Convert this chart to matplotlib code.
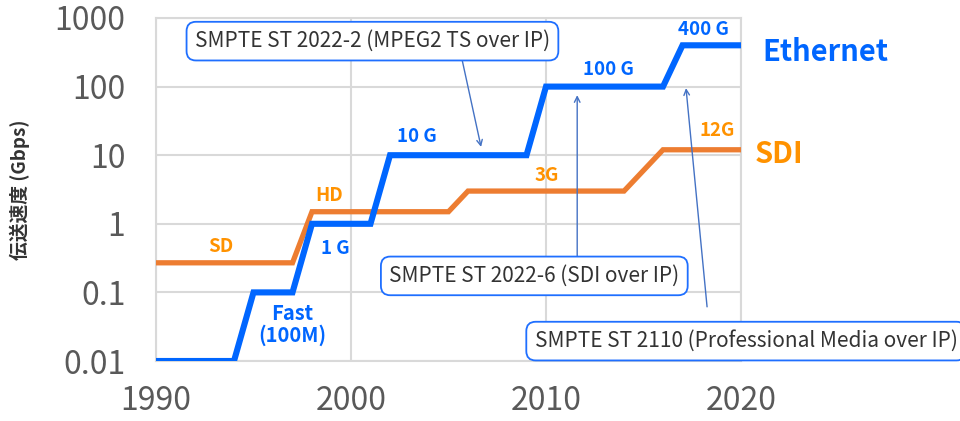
import numpy as np
import matplotlib
matplotlib.use("Agg")
import matplotlib.pyplot as plt

plt.rcParams['font.family'] = ['Noto Sans CJK JP', 'DejaVu Sans']

# Ethernet speeds (Gbps), step points
eth_year = [1990, 1994, 1995, 1997, 1998, 2001, 2002, 2009, 2010, 2016, 2017, 2020]
eth_gbps = [0.01, 0.01, 0.1, 0.1, 1, 1, 10, 10, 100, 100, 400, 400]

# SDI speeds (Gbps)
sdi_year = [1990, 1997, 1998, 2005, 2006, 2014, 2016, 2020]
sdi_gbps = [0.27, 0.27, 1.5, 1.5, 3, 3, 12, 12]

yticks = [0.01, 0.1, 1, 10, 100, 1000]
ytick_labels = ["0.01", "0.1", "1", "10", "100", "1000"]
xticks = [1990, 2000, 2010, 2020]

BLUE = "#0066ff"
ORANGE_LINE = "#ed7d31"
ORANGE_TXT = "#ff9200"
GRID = "#d9d9d9"

fig = plt.figure(figsize=(9.6, 4.21), dpi=100)
ax = fig.add_axes([156 / 960, 1 - 361 / 421, (741 - 156) / 960, (361 - 18) / 421])

ax.plot(sdi_year, sdi_gbps, color=ORANGE_LINE, lw=3.8, solid_joinstyle='miter', zorder=3)
ax.plot(eth_year, eth_gbps, color=BLUE, lw=4.4, solid_joinstyle='miter', zorder=4)

ax.set_yscale('log')
ax.set_ylim(0.01, 1000)
ax.set_xlim(1990, 2020)
ax.set_yticks(yticks)
ax.set_yticklabels(ytick_labels)
ax.set_xticks(xticks)
ax.minorticks_off()
ax.tick_params(length=0, labelsize=23, labelcolor="#595959")
ax.tick_params(axis='y', pad=22)
ax.tick_params(axis='x', pad=17)
ax.grid(True, color=GRID, lw=1.5)
ax.set_axisbelow(True)
for s in ax.spines.values():
    s.set_color(GRID)
    s.set_linewidth(1.5)

ax.set_ylabel("伝送速度 (Gbps)", fontsize=13.5, fontweight='bold', color="#333333")
ax.yaxis.set_label_coords(-0.215, 0.5)

# series labels
lab = dict(fontsize=13.5, fontweight='bold', ha='center', va='center')
ax.text(1993.3, 0.47, "SD", color=ORANGE_TXT, **lab)
ax.text(1998.9, 2.6, "HD", color=ORANGE_TXT, **lab)
ax.text(2010.05, 5.1, "3G", color=ORANGE_TXT, **lab)
ax.text(2018.8, 23, "12G", color=ORANGE_TXT, **lab)
ax.text(1999.2, 0.44, "1 G", color=BLUE, **lab)
ax.text(1997.0, 0.034, "Fast\n(100M)", color=BLUE, linespacing=1.05,
        **dict(lab, fontsize=14.5))
ax.text(2003.4, 19, "10 G", color=BLUE, **lab)
ax.text(2013.2, 180, "100 G", color=BLUE, **lab)
ax.text(2018.05, 690, "400 G", color=BLUE, **lab)

ax.text(2021.1, 318, "Ethernet", color=BLUE, fontsize=21, fontweight='bold',
        ha='left', va='center', clip_on=False)
ax.text(2020.7, 10.5, "SDI", color=ORANGE_TXT, fontsize=21, fontweight='bold',
        ha='left', va='center', clip_on=False)

# callouts
box = dict(boxstyle='round,pad=0.4,rounding_size=0.45', fc='white', ec='#1f6fff', lw=1.3)
call = dict(fontsize=15, color="#333333", ha='center', va='center', bbox=box,
            clip_on=False, zorder=6)
arr = dict(arrowstyle='->', color='#4472c4', lw=1.0, shrinkA=0, shrinkB=0,
           mutation_scale=10)

ax.annotate("", xy=(2006.67, 13.2), xytext=(2005.6, 330), arrowprops=arr, zorder=5)
ax.text(2001.1, 460, "SMPTE ST 2022-2 (MPEG2 TS over IP)", **call)

ax.annotate("", xy=(2011.6, 75), xytext=(2011.6, 0.23), arrowprops=arr, zorder=5)
ax.text(2009.4, 0.174, "SMPTE ST 2022-6 (SDI over IP)", **call)

ax.annotate("", xy=(2017.18, 95), xytext=(2018.26, 0.0616), arrowprops=arr,
            annotation_clip=False, zorder=5)
ax.text(2020.26, 0.0195, "SMPTE ST 2110 (Professional Media over IP)", **call)

fig.savefig("out.png", dpi=100)
